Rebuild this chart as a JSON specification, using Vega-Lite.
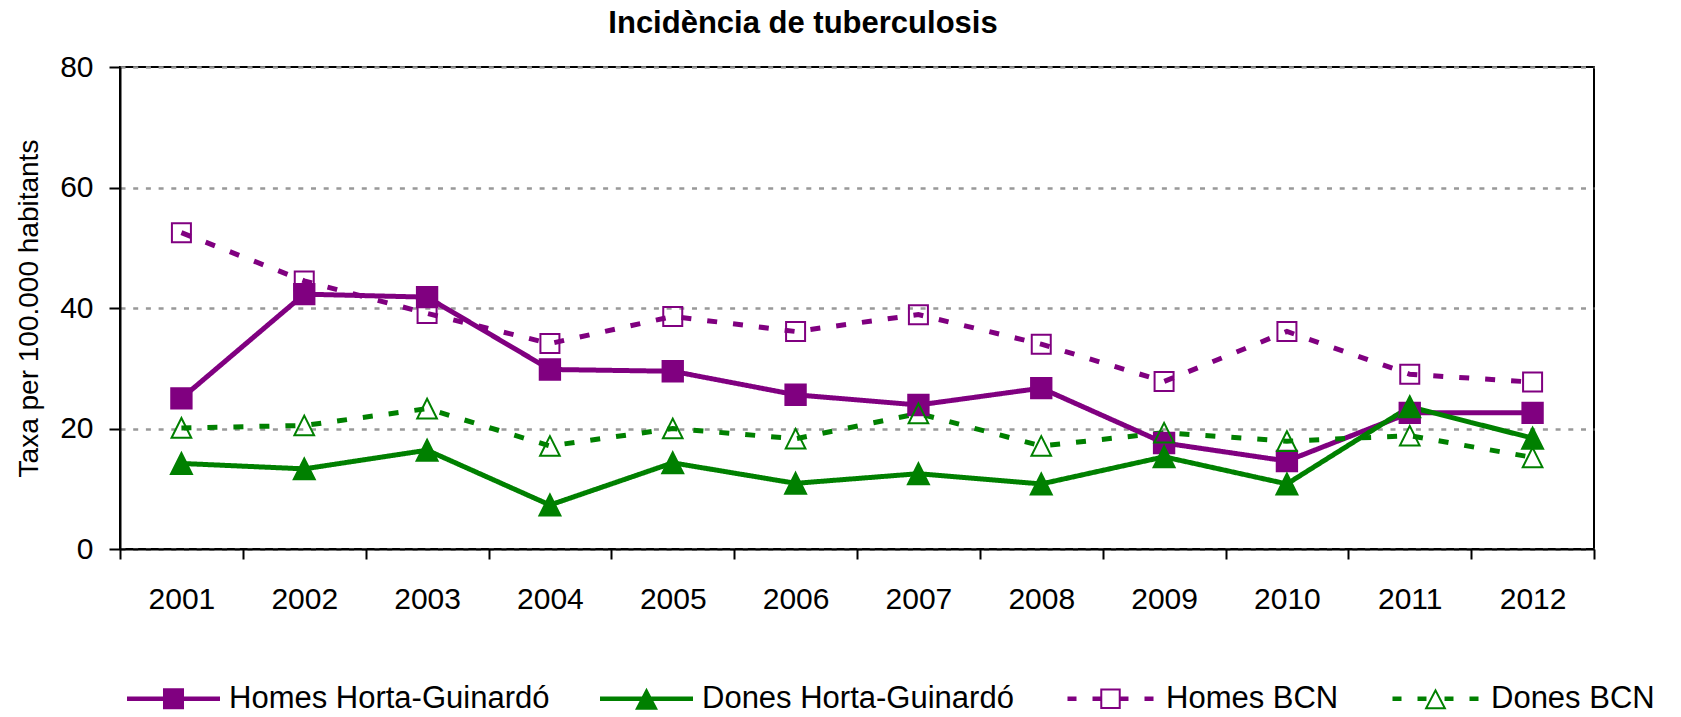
{
  "$schema": "https://vega.github.io/schema/vega-lite/v6.json",
  "width": 1474,
  "height": 482,
  "autosize": {"type": "none"},
  "padding": {"left": 120, "top": 67, "right": 87, "bottom": 168},
  "background": "white",
  "title": {
    "text": "Incidència de tuberculosis",
    "font": "Liberation Sans",
    "fontSize": 31,
    "fontWeight": "bold",
    "color": "black",
    "anchor": "middle",
    "dx": -54,
    "dy": 31,
    "baseline": "alphabetic",
    "offset": 19
  },
  "config": {
    "view": {"stroke": "black", "strokeWidth": 2},
    "font": "Liberation Sans"
  },
  "data": {
    "values": [
      {"year": 2001, "series": "Homes Horta-Guinardó", "value": 25.0},
      {"year": 2002, "series": "Homes Horta-Guinardó", "value": 42.3},
      {"year": 2003, "series": "Homes Horta-Guinardó", "value": 41.8},
      {"year": 2004, "series": "Homes Horta-Guinardó", "value": 29.8},
      {"year": 2005, "series": "Homes Horta-Guinardó", "value": 29.5},
      {"year": 2006, "series": "Homes Horta-Guinardó", "value": 25.6},
      {"year": 2007, "series": "Homes Horta-Guinardó", "value": 23.9},
      {"year": 2008, "series": "Homes Horta-Guinardó", "value": 26.7},
      {"year": 2009, "series": "Homes Horta-Guinardó", "value": 17.6},
      {"year": 2010, "series": "Homes Horta-Guinardó", "value": 14.6},
      {"year": 2011, "series": "Homes Horta-Guinardó", "value": 22.6},
      {"year": 2012, "series": "Homes Horta-Guinardó", "value": 22.6},
      {"year": 2001, "series": "Dones Horta-Guinardó", "value": 14.2},
      {"year": 2002, "series": "Dones Horta-Guinardó", "value": 13.3},
      {"year": 2003, "series": "Dones Horta-Guinardó", "value": 16.4},
      {"year": 2004, "series": "Dones Horta-Guinardó", "value": 7.3},
      {"year": 2005, "series": "Dones Horta-Guinardó", "value": 14.3},
      {"year": 2006, "series": "Dones Horta-Guinardó", "value": 10.9},
      {"year": 2007, "series": "Dones Horta-Guinardó", "value": 12.5},
      {"year": 2008, "series": "Dones Horta-Guinardó", "value": 10.8},
      {"year": 2009, "series": "Dones Horta-Guinardó", "value": 15.3},
      {"year": 2010, "series": "Dones Horta-Guinardó", "value": 10.8},
      {"year": 2011, "series": "Dones Horta-Guinardó", "value": 23.6},
      {"year": 2012, "series": "Dones Horta-Guinardó", "value": 18.4},
      {"year": 2001, "series": "Homes BCN", "value": 52.5},
      {"year": 2002, "series": "Homes BCN", "value": 44.5},
      {"year": 2003, "series": "Homes BCN", "value": 39.1},
      {"year": 2004, "series": "Homes BCN", "value": 34.1},
      {"year": 2005, "series": "Homes BCN", "value": 38.6},
      {"year": 2006, "series": "Homes BCN", "value": 36.1},
      {"year": 2007, "series": "Homes BCN", "value": 38.9},
      {"year": 2008, "series": "Homes BCN", "value": 34.0},
      {"year": 2009, "series": "Homes BCN", "value": 27.8},
      {"year": 2010, "series": "Homes BCN", "value": 36.1},
      {"year": 2011, "series": "Homes BCN", "value": 29.0},
      {"year": 2012, "series": "Homes BCN", "value": 27.7},
      {"year": 2001, "series": "Dones BCN", "value": 20.1},
      {"year": 2002, "series": "Dones BCN", "value": 20.5},
      {"year": 2003, "series": "Dones BCN", "value": 23.3},
      {"year": 2004, "series": "Dones BCN", "value": 17.1},
      {"year": 2005, "series": "Dones BCN", "value": 20.0},
      {"year": 2006, "series": "Dones BCN", "value": 18.3},
      {"year": 2007, "series": "Dones BCN", "value": 22.5},
      {"year": 2008, "series": "Dones BCN", "value": 17.1},
      {"year": 2009, "series": "Dones BCN", "value": 19.3},
      {"year": 2010, "series": "Dones BCN", "value": 17.9},
      {"year": 2011, "series": "Dones BCN", "value": 18.8},
      {"year": 2012, "series": "Dones BCN", "value": 15.2}
    ]
  },
  "encoding": {
    "x": {
      "field": "year",
      "type": "ordinal",
      "scale": {"type": "band", "paddingInner": 0, "paddingOuter": 0},
      "axis": {
        "title": null,
        "labelAngle": 0,
        "tickBand": "extent",
        "grid": false,
        "tickSize": 10,
        "tickWidth": 2,
        "tickColor": "black",
        "domainColor": "black",
        "domainWidth": 2,
        "labelFont": "Liberation Sans",
        "labelFontSize": 30,
        "labelColor": "black",
        "labelPadding": 25
      }
    },
    "y": {
      "field": "value",
      "type": "quantitative",
      "scale": {"domain": [0, 80], "nice": false},
      "axis": {
        "values": [0, 20, 40, 60, 80],
        "title": "Taxa per 100.000 habitants",
        "titleFont": "Liberation Sans",
        "titleFontSize": 28,
        "titleFontWeight": "normal",
        "titleColor": "black",
        "titlePadding": 16,
        "grid": true,
        "gridColor": "#999999",
        "gridDash": [5, 7.7],
        "gridWidth": 2.5,
        "tickSize": 11,
        "tickWidth": 2,
        "tickColor": "black",
        "domainColor": "black",
        "domainWidth": 2,
        "labelFont": "Liberation Sans",
        "labelFontSize": 30,
        "labelColor": "black",
        "labelPadding": 16
      }
    }
  },
  "layer": [
    {
      "mark": {"type": "line", "strokeWidth": 5},
      "encoding": {
        "color": {
          "field": "series",
          "type": "nominal",
          "scale": {
            "domain": ["Homes Horta-Guinardó", "Dones Horta-Guinardó", "Homes BCN", "Dones BCN"],
            "range": ["#800080", "#008000", "#800080", "#008000"]
          },
          "legend": {
            "title": null,
            "orient": "none",
            "legendX": 7,
            "legendY": 585,
            "direction": "horizontal",
            "columns": 4,
            "columnPadding": 50,
            "padding": 0,
            "symbolSize": 8649,
            "symbolStrokeWidth": 0,
            "symbolOffset": 0,
            "labelOffset": 9,
            "labelFont": "Liberation Sans",
            "labelFontSize": 31,
            "labelColor": "black",
            "labelLimit": 0,
            "encode": {
              "symbols": {
                "update": {
                  "shape": {"signal": "indexof(datum.value,'Homes')===0 ? (indexof(datum.value,'BCN')>0 ? 'M-0.925,-0.05H-0.731V0.05H-0.925Z M-0.387,-0.05H-0.194V0.05H-0.387Z M0.194,-0.05H0.387V0.05H0.194Z M0.731,-0.05H0.925V0.05H0.731Z M-0.22,-0.22H0.22V0.22H-0.22Z M-0.177,-0.177V0.177H0.177V-0.177Z' : 'M-1,-0.05H1V0.05H-1Z M-0.226,-0.226H0.226V0.226H-0.226Z') : (indexof(datum.value,'BCN')>0 ? 'M-0.925,-0.05H-0.731V0.05H-0.925Z M-0.387,-0.05H-0.194V0.05H-0.387Z M0.194,-0.05H0.387V0.05H0.194Z M0.731,-0.05H0.925V0.05H0.731Z M0,-0.226L0.237,0.226H-0.237Z M0,-0.133L-0.166,0.183H0.166Z' : 'M-1,-0.05H1V0.05H-1Z M0,-0.237L0.247,0.237H-0.247Z')"},
                  "fill": {"signal": "indexof(datum.value,'Homes')===0 ? '#800080' : '#008000'"},
                  "stroke": {"value": "transparent"},
                  "strokeWidth": {"value": 0},
                  "opacity": {"value": 1}
                }
              }
            }
          }
        },
        "strokeDash": {
          "field": "series",
          "type": "nominal",
          "scale": {
            "domain": ["Dones BCN", "Homes BCN", "Dones Horta-Guinardó", "Homes Horta-Guinardó"],
            "range": [[10, 16], [10, 16], [1, 0], [1, 0]]
          },
          "legend": null
        }
      }
    },
    {
      "mark": {"type": "point", "strokeWidth": 2, "opacity": 1},
      "encoding": {
        "shape": {
          "field": "series",
          "type": "nominal",
          "scale": {
            "domain": ["Homes BCN", "Homes Horta-Guinardó", "Dones BCN", "Dones Horta-Guinardó"],
            "range": ["square", "square", "M0,-1L1,1L-1,1Z", "M0,-1L1,1L-1,1Z"]
          },
          "legend": null
        },
        "size": {
          "field": "series",
          "type": "nominal",
          "scale": {
            "domain": ["Dones Horta-Guinardó", "Homes Horta-Guinardó", "Dones BCN", "Homes BCN"],
            "range": [441, 361, 400, 350]
          },
          "legend": null
        },
        "fill": {
          "field": "series",
          "type": "nominal",
          "scale": {
            "domain": ["Homes BCN", "Dones BCN", "Homes Horta-Guinardó", "Dones Horta-Guinardó"],
            "range": ["transparent", "transparent", "#800080", "#008000"]
          },
          "legend": null
        },
        "stroke": {
          "field": "series",
          "type": "nominal",
          "scale": {
            "domain": ["Dones Horta-Guinardó", "Dones BCN", "Homes Horta-Guinardó", "Homes BCN"],
            "range": ["#008000", "#008000", "#800080", "#800080"]
          },
          "legend": null
        }
      }
    }
  ]
}
